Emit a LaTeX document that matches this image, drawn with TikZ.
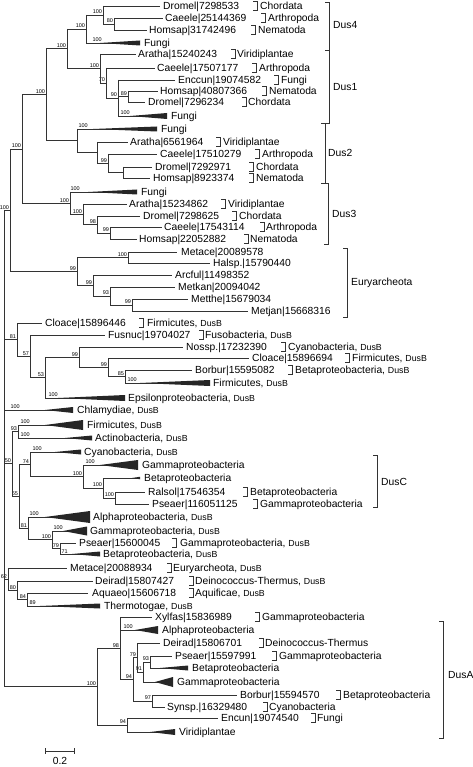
\documentclass[tikz,border=0pt]{standalone}
\usepackage{fontspec}
\setmainfont{Liberation Sans}
\newcommand\sm{\fontsize{8.8}{10}\selectfont}
\newcommand\HL[3]{\draw[br] (#1,#3) -- (#2,#3);}
\newcommand\VL[3]{\draw[br] (#1,#2) -- (#1,#3);}
\newcommand\TRI[4]{\fill[trif] (#1,#2) -- (#3,{#2-#4/2}) -- (#3,{#2+#4/2}) -- cycle;}
\newcommand\LAB[3]{\node[lab] at (#1,{#2+3.6}) {#3};}
\newcommand\LEAF[5]{\HL{#1}{#2}{#3}\LAB{#4}{#3}{#5}}
\newcommand\BS[3]{\node[bsl,anchor=south east] at ({#1-0.5},{#2-0.5}) {#3};}
\newcommand\BSL[3]{\node[bsl,anchor=south west] at (#1,{#2-0.5}) {#3};}
\newcommand\TB[2]{\draw[tbk] ({#1-4},{#2-4.5}) -- (#1,{#2-4.5}) -- (#1,{#2+4.5}) -- ({#1-4},{#2+4.5});}
\newcommand\GB[3]{\draw[tbk] ({#1-4},#2) -- (#1,#2) -- (#1,#3) -- ({#1-4},#3);}
\begin{document}
\begin{tikzpicture}[x=1pt,y=-1pt,
  br/.style={line width=0.9pt,black!80},
  trif/.style={fill=black!85},
  tbk/.style={line width=0.9pt,black!80},
  lab/.style={anchor=base west,inner sep=0pt,font=\fontsize{10.3}{12}\selectfont},
  bsl/.style={inner sep=0.3pt,font=\fontsize{5.5}{6}\selectfont}]
\useasboundingbox (0,0) rectangle (472,767);
\fill[white] (0,0) rectangle (472,767);
% ---------- Dus4
\LEAF{103}{160}{6}{163}{Dromel|7298533}
\LEAF{114}{163}{18}{165}{Caeele|25144369}
\LEAF{114}{147}{30}{149}{Homsap|31742496}
\VL{114}{18}{30} \HL{103}{114}{24} \BS{114}{24}{80}
\VL{103}{6}{24} \HL{86}{103}{15} \BS{103}{15}{100}
\HL{86}{140}{43} \TRI{100}{43}{140}{5} \LAB{144}{43}{Fungi} \BSL{92}{43}{100}
\VL{86}{15}{43} \HL{67}{86}{29} \BS{86}{29}{100}
% ---------- Dus1
\LEAF{100}{136}{54}{138}{Aratha|15240243}
\LEAF{106}{155}{68}{157}{Caeele|17507177}
\LEAF{118}{175}{80}{178}{Enccun|19074582}
\LEAF{128}{158}{91}{160}{Homsap|40807366}
\LEAF{128}{145}{102}{148}{Dromel|7296234}
\VL{128}{91}{102} \HL{118}{128}{96.5} \BS{128}{96.5}{89}
\HL{118}{167}{116} \TRI{130}{116}{167}{6} \LAB{171}{116}{Fungi} \BSL{120}{116}{100}
\VL{118}{80}{116} \HL{106}{118}{98} \BS{118}{98}{90}
\VL{106}{68}{98} \HL{100}{106}{83} \BS{106}{83}{70}
\VL{100}{54}{83} \HL{67}{100}{68.5} \BS{100}{68.5}{100}
\VL{67}{29}{68.5} \HL{46}{67}{48.75} \BS{67}{48.75}{100}
% ---------- Dus2
\HL{77}{157}{129} \TRI{93}{129}{157}{5} \LAB{161}{129}{Fungi} \BSL{78}{129}{100}
\LEAF{97}{128}{142}{130}{Aratha|6561964}
\LEAF{108}{157}{154}{160}{Caeele|17510279}
\LEAF{123}{152}{167}{155}{Dromel|7292971}
\LEAF{123}{150}{178}{153}{Homsap|8923374}
\VL{123}{167}{178} \HL{108}{123}{172.5}
\VL{108}{154}{172.5} \HL{97}{108}{163.25} \BS{108}{163.25}{99}
\VL{97}{142}{163.25} \HL{77}{97}{152.6}
\VL{77}{129}{152.6} \HL{46}{77}{140.8}
\VL{46}{48.75}{140.8} \HL{22}{46}{94.8} \BS{46}{94.8}{100}
% ---------- Dus3
\HL{70}{137}{192} \TRI{88}{192}{137}{5} \LAB{141}{192}{Fungi} \BSL{70}{192}{100}
\LEAF{83}{127}{204}{129}{Aratha|15234862}
\LEAF{97}{140}{216}{143}{Dromel|7298625}
\LEAF{110}{162}{227}{164}{Caeele|17543114}
\LEAF{110}{137}{239}{139}{Homsap|22052882}
\VL{110}{227}{239} \HL{97}{110}{233} \BS{110}{233}{99}
\VL{97}{216}{233} \HL{83}{97}{224.5} \BS{97}{224.5}{98}
\VL{83}{204}{224.5} \HL{70}{83}{214.25} \BS{83}{214.25}{100}
\VL{70}{192}{214.25} \HL{22}{70}{203.1} \BS{70}{203.1}{100}
\VL{22}{94.8}{203.1} \HL{10}{22}{149} \BS{22}{149}{100}
% ---------- Euryarcheota
\LEAF{128}{177}{252}{181}{Metace|20089578}
\LEAF{128}{210}{263}{213}{Halsp.|15790440}
\LEAF{93}{172}{275}{175}{Arcful|11498352}
\LEAF{110}{175}{287}{178}{Metkan|20094042}
\LEAF{132}{188}{299}{191}{Metthe|15679034}
\LEAF{132}{248}{311}{251}{Metjan|15668316}
\VL{128}{252}{263} \HL{77}{128}{257.5} \BS{128}{257.5}{100}
\VL{132}{299}{311} \HL{110}{132}{305} \BS{132}{305}{99}
\VL{110}{287}{305} \HL{93}{110}{296} \BS{110}{296}{93}
\VL{93}{275}{296} \HL{77}{93}{285.5} \BS{93}{285.5}{99}
\VL{77}{257.5}{285.5} \HL{10}{77}{271.5} \BS{77}{271.5}{99}
\VL{10}{149}{271.5} \HL{4}{10}{210.25} \BS{10}{210.25}{100}
% ---------- DusB part 1
\LEAF{17}{42}{323}{45}{Cloace|15896446}
\LEAF{30}{105}{335}{108}{Fusnuc|19704027}
\LEAF{79}{183}{347}{186}{Nossp.|17232390}
\LEAF{108}{249}{358}{252}{Cloace|15896694}
\LEAF{125}{192}{370}{195}{Borbur|15595082}
\HL{125}{210}{383} \TRI{140}{383}{210}{6} \LAB{213}{383}{Firmicutes, \sm DusB} \BSL{127}{383}{100}
\VL{125}{370}{383} \HL{108}{125}{376.5} \BS{125}{376.5}{85}
\VL{108}{358}{376.5} \HL{79}{108}{367.25} \BS{108}{367.25}{99}
\VL{79}{347}{367.25} \HL{45}{79}{357.1} \BS{79}{357.1}{99}
\HL{45}{125}{398} \TRI{58}{398}{125}{6} \LAB{128}{398}{Epsilonproteobacteria, \sm DusB} \BSL{48}{398}{100}
\VL{45}{357.1}{398} \HL{30}{45}{377.6} \BS{45}{377.6}{53}
\VL{30}{335}{377.6} \HL{17}{30}{356.3} \BS{30}{356.3}{57}
\VL{17}{323}{356.3} \HL{4}{17}{339.6} \BS{17}{339.6}{81}
% ---------- Chlamydiae
\HL{4}{73}{410} \TRI{45}{410}{73}{6} \LAB{77}{410}{Chlamydiae, \sm DusB} \BSL{10}{410}{100}
% ---------- DusB part 2 / DusC
\HL{18}{83}{425} \TRI{45}{425}{83}{10} \LAB{87}{425}{Firmicutes, \sm DusB} \BSL{20}{425}{100}
\HL{18}{92}{438} \TRI{65}{438}{92}{5} \LAB{95}{438}{Actinobacteria, \sm DusB} \BSL{20}{438}{100}
\VL{18}{425}{438} \HL{12}{18}{431.5} \BS{18}{431.5}{93}
\HL{30}{81}{452} \TRI{55}{452}{81}{5} \LAB{84}{452}{Cyanobacteria, \sm DusB} \BSL{32}{452}{100}
\HL{83}{138}{465} \TRI{100}{465}{138}{10} \LAB{142}{465}{Gammaproteobacteria} \BSL{85}{465}{100}
\HL{103}{140}{478} \TRI{132}{478}{140}{2.5} \LAB{144}{478}{Betaproteobacteria}
\LEAF{115}{145}{492}{148}{Ralsol|17546354}
\LEAF{115}{149}{504}{152}{Pseaer|116051125}
\VL{115}{492}{504} \HL{103}{115}{498} \BS{115}{498}{100}
\VL{103}{478}{498} \HL{83}{103}{488} \BS{103}{488}{100}
\VL{83}{465}{488} \HL{30}{83}{476.5} \BS{83}{476.5}{100}
\VL{30}{452}{476.5} \HL{19}{30}{464.25} \BS{30}{464.25}{74}
\HL{28}{90}{517} \TRI{45}{517}{90}{12} \LAB{93}{517}{Alphaproteobacteria, \sm DusB} \BSL{29}{517}{100}
\HL{52}{87}{531} \TRI{63}{531}{87}{9} \LAB{90}{531}{Gammaproteobacteria, \sm DusB} \BSL{53}{531}{100}
\LEAF{60}{76}{543}{79}{Pseaer|15600045}
\HL{60}{100}{554} \TRI{72}{554}{100}{5} \LAB{103}{554}{Betaproteobacteria, \sm DusB} \BSL{61}{554}{71}
\VL{60}{543}{554} \HL{52}{60}{548.5} \BS{60}{548.5}{79}
\VL{52}{531}{548.5} \HL{28}{52}{539.75} \BS{52}{539.75}{100}
\VL{28}{517}{539.75} \HL{19}{28}{528.4} \BS{28}{528.4}{81}
\VL{19}{464.25}{528.4} \HL{12}{19}{496.3} \BS{19}{496.3}{65}
\VL{12}{431.5}{496.3} \HL{4}{12}{463.9} \BS{12}{463.9}{50}
% ---------- other DusB
\LEAF{8}{67}{568}{70}{Metace|20088934}
\LEAF{17}{93}{581}{95}{Deirad|15807427}
\LEAF{27}{88}{593}{92}{Aquaeo|15606718}
\HL{27}{100}{606} \TRI{40}{606}{100}{5} \LAB{104}{606}{Thermotogae, \sm DusB} \BSL{29}{606}{89}
\VL{27}{593}{606} \HL{17}{27}{599.5} \BS{27}{599.5}{84}
\VL{17}{581}{599.5} \HL{8}{17}{590.25} \BS{17}{590.25}{80}
\VL{8}{568}{590.25} \HL{4}{8}{579.1} \BS{8}{579.1}{62}
% ---------- DusA
\LEAF{120}{152}{617}{155}{Xylfas|15836989}
\HL{120}{158}{630} \TRI{135}{630}{158}{8} \LAB{162}{630}{Alphaproteobacteria} \BSL{123}{630}{100}
\LEAF{137}{160}{643}{163}{Deirad|15806701}
\LEAF{150}{172}{656}{175}{Pseaer|15597991}
\HL{150}{188}{668} \TRI{160}{668}{188}{5} \LAB{192}{668}{Betaproteobacteria}
\VL{150}{656}{668} \HL{143}{150}{662} \BS{150}{662}{93}
\HL{143}{173}{682} \TRI{155}{682}{173}{10} \LAB{177}{682}{Gammaproteobacteria}
\VL{143}{662}{682} \HL{137}{143}{672} \BS{143}{672}{91}
\VL{137}{643}{672} \HL{133}{137}{657.5} \BS{137}{657.5}{79}
\LEAF{152}{237}{695}{240}{Borbur|15594570}
\LEAF{152}{165}{707}{167}{Synsp.|16329480}
\VL{152}{695}{707} \HL{133}{152}{701} \BS{152}{701}{97}
\VL{133}{657.5}{701} \HL{120}{133}{679.25} \BS{133}{679.25}{94}
\VL{120}{617}{679.25} \HL{97}{120}{648.1} \BS{120}{648.1}{98}
\LEAF{127}{218}{718}{221}{Encun|19074540}
\HL{127}{175}{732} \TRI{150}{732}{175}{6} \LAB{179}{732}{Viridiplantae}
\VL{127}{718}{732} \HL{97}{127}{725} \BS{127}{725}{94}
\VL{97}{648.1}{725} \HL{4}{97}{686.6} \BS{97}{686.6}{100}
% ---------- root
\VL{4}{210.25}{686.6}
% ---------- taxon brackets
\TB{257}{6} \LAB{260}{6}{Chordata}
\TB{265}{18} \LAB{268}{18}{Arthropoda}
\TB{255}{30} \LAB{258}{30}{Nematoda}
\TB{235}{54} \LAB{237}{54}{Viridiplantae}
\TB{256}{68} \LAB{259}{68}{Arthropoda}
\TB{278}{80} \LAB{281}{80}{Fungi}
\TB{266}{91} \LAB{269}{91}{Nematoda}
\TB{246}{102} \LAB{248}{102}{Chordata}
\TB{220}{142} \LAB{223}{142}{Viridiplantae}
\TB{259}{154} \LAB{262}{154}{Arthropoda}
\TB{253}{167} \LAB{256}{167}{Chordata}
\TB{253}{178} \LAB{256}{178}{Nematoda}
\TB{225}{204} \LAB{228}{204}{Viridiplantae}
\TB{236}{216} \LAB{239}{216}{Chordata}
\TB{264}{227} \LAB{266}{227}{Arthropoda}
\TB{248}{239} \LAB{250}{239}{Nematoda}
\TB{143}{323} \LAB{147}{323}{Firmicutes, \sm DusB}
\TB{203}{335} \LAB{205}{335}{Fusobacteria, \sm DusB}
\TB{285}{347} \LAB{288}{347}{Cyanobacteria, \sm DusB}
\TB{349}{358} \LAB{352}{358}{Firmicutes, \sm DusB}
\TB{292}{370} \LAB{295}{370}{Betaproteobacteria, \sm DusB}
\TB{247}{492} \LAB{250}{492}{Betaproteobacteria}
\TB{257}{504} \LAB{260}{504}{Gammaproteobacteria}
\TB{176}{543} \LAB{180}{543}{Gammaproteobacteria, \sm DusB}
\TB{171}{568} \LAB{173}{568}{Euryarcheota, \sm DusB}
\TB{193}{581} \LAB{195}{581}{Deinococcus-Thermus, \sm DusB}
\TB{193}{593} \LAB{195}{593}{Aquificae, \sm DusB}
\TB{259}{617} \LAB{262}{617}{Gammaproteobacteria}
\TB{263}{643} \LAB{265}{643}{Deinococcus-Thermus}
\TB{276}{656} \LAB{279}{656}{Gammaproteobacteria}
\TB{340}{695} \LAB{343}{695}{Betaproteobacteria}
\TB{267}{707} \LAB{269}{707}{Cyanobacteria}
\TB{315}{718} \LAB{317}{718}{Fungi}
% ---------- group brackets
\GB{329}{2}{50} \LAB{333}{25}{Dus4}
\GB{329}{50}{123} \LAB{333}{87}{Dus1}
\GB{325}{123}{183} \LAB{328}{153}{Dus2}
\GB{328}{183}{244} \LAB{332}{214}{Dus3}
\GB{347}{248}{317} \LAB{351}{282}{Euryarcheota}
\GB{377}{455}{507} \LAB{381}{482}{DusC}
\GB{443}{621}{738} \LAB{448}{675}{DusA}
% ---------- scale bar
\draw[br] (45,751) -- (74,751);
\draw[br] (45,748) -- (45,754);
\draw[br] (74,748) -- (74,754);
\node[font=\fontsize{10.3}{12}\selectfont,inner sep=0pt,anchor=base] (sc) at (60,764.5) {0.2};
\end{tikzpicture}
\end{document}
